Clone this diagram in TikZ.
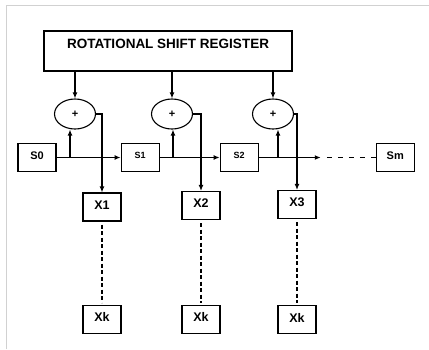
\documentclass[tikz,border=0pt]{standalone}
\usepackage{fontspec}
\setmainfont{Liberation Sans}
\usetikzlibrary{positioning,shapes.geometric,arrows.meta}

\begin{document}
\begin{tikzpicture}[x=1pt,y=-1pt,
    >={Latex[length=6pt,width=5pt]},
    box/.style={draw, line width=1.1pt, minimum width=38pt, minimum height=28pt, inner sep=0pt, text depth=4pt, font=\fontsize{11}{11}\selectfont\bfseries},
    xorop/.style={ellipse, draw, line width=1.1pt, minimum width=41pt, minimum height=30pt, inner sep=0pt, font=\fontsize{11}{11}\selectfont\bfseries},
    link/.style={->, line width=1.5pt},
    dots/.style={line width=1.5pt, dash pattern=on 4pt off 2.5pt}]
    \useasboundingbox (0,0) rectangle (429,349);
    \draw[black!18, line width=1pt] (6,349) -- (6,5) -- (429,5);

    %Nodes
    \node[draw, line width=1.1pt, minimum width=248pt, minimum height=40pt, inner sep=0pt, text height=10pt, text depth=16pt, font=\fontsize{13.5}{13.5}\selectfont\bfseries] (reg) at (168,51) {ROTATIONAL SHIFT REGISTER};
    \node[xorop] (e1) at (75,114) {+};
    \node[xorop] (e2) at (172,114) {+};
    \node[xorop] (e3) at (273,114) {+};

    \node[box] (s0) at (37,157.5) {S0};
    \node[box, font=\fontsize{9}{9}\selectfont\bfseries] (s1) [right=64pt of s0] {S1};
    \node[box, font=\fontsize{9}{9}\selectfont\bfseries] (s2) [right=60pt of s1] {S2};
    \node[box] (sm) [right=117pt of s2] {Sm};

    \node[box, font=\fontsize{12.5}{12.5}\selectfont\bfseries] (x1) at (102,207) {X1};
    \node[box, font=\fontsize{12.5}{12.5}\selectfont\bfseries] (x2) at (201,205.5) {X2};
    \node[box, font=\fontsize{12.5}{12.5}\selectfont\bfseries] (x3) at (297,204.5) {X3};
    \node[box, font=\fontsize{12.5}{12.5}\selectfont\bfseries] (xk1) [below=83pt of x1] {Xk};
    \node[box, font=\fontsize{12.5}{12.5}\selectfont\bfseries] (xk2) [below=84.5pt of x2] {Xk};
    \node[box, font=\fontsize{12.5}{12.5}\selectfont\bfseries] (xk3) [below=86pt of x3] {Xk};
    \coordinate[right=62pt of s2.east] (tail);

    %Lines
    \draw[link] (e1 |- reg.south) -- (e1.north);
    \draw[link] (e2 |- reg.south) -- (e2.north);
    \draw[link] (e3 |- reg.south) -- (e3.north);

    \draw[->, line width=1.2pt] (s0) -- (s1);
    \draw[->, line width=1.2pt] (s1) -- (s2);
    \draw[->, line width=1.2pt] (s2) -- (tail);
    \draw[line width=1.2pt, dash pattern=on 5pt off 6pt] ([xshift=6pt]tail) -- (sm);

    \draw[link] ([xshift=-5pt]e1.south |- s0.east) -- ([xshift=-5pt]e1.south);
    \draw[link] ([xshift=1pt]e2.south |- s0.east) -- ([xshift=1pt]e2.south);
    \draw[link] ([xshift=5pt]e3.south |- s0.east) -- ([xshift=5pt]e3.south);

    \draw[link] (e1.east) -| (x1.north);
    \draw[link] (e2.east) -| (x2.north);
    \draw[link] (e3.east) -| (x3.north);

    \draw[dots] ([yshift=-3pt]x1.south) -- ([yshift=2pt]xk1.north);
    \draw[dots] ([yshift=-3pt]x2.south) -- ([yshift=2pt]xk2.north);
    \draw[dots] ([yshift=-3pt]x3.south) -- ([yshift=2pt]xk3.north);
\end{tikzpicture}
\end{document}
